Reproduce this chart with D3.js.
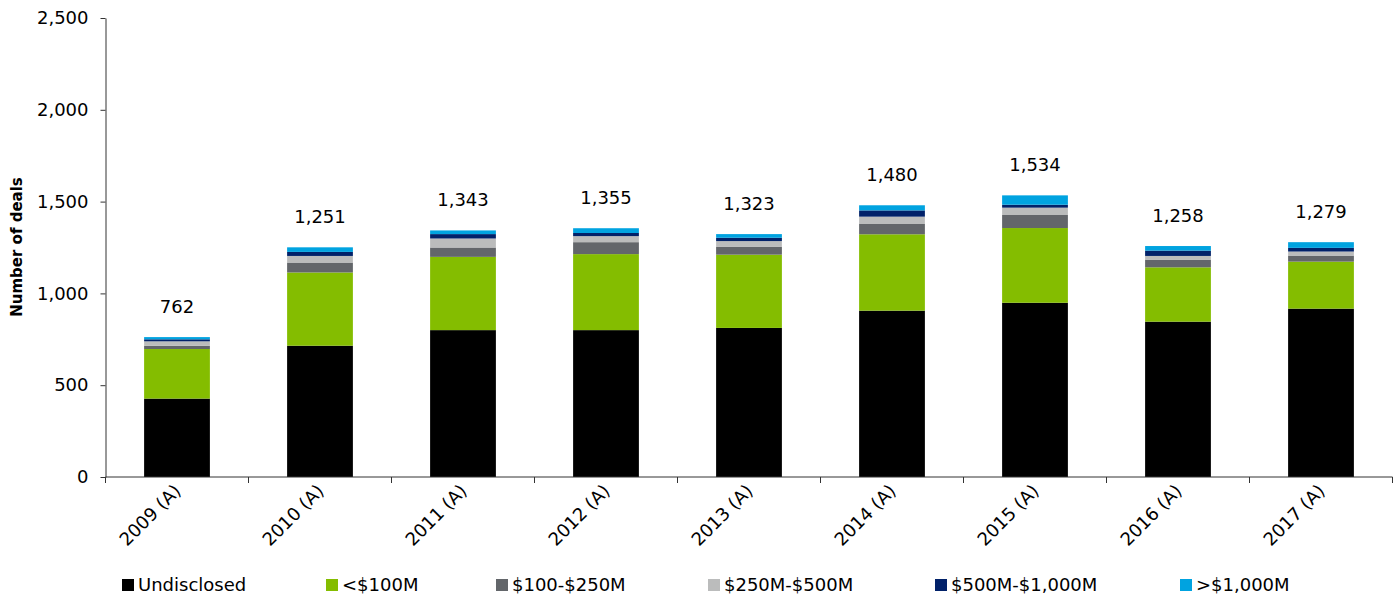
<!DOCTYPE html>
<html><head><meta charset="utf-8">
<script src="https://cdn.jsdelivr.net/npm/d3@7"></script>
<style>body{margin:0;background:#fff}svg{display:block}text{font-family:"DejaVu Sans",Verdana,sans-serif}</style>
</head><body><svg id="c" width="1397" height="596"></svg>
<script>
const categories = ["2009 (A)","2010 (A)","2011 (A)","2012 (A)","2013 (A)","2014 (A)","2015 (A)","2016 (A)","2017 (A)"];
const seriesNames = ["Undisclosed","<$100M","$100-$250M","$250M-$500M","$500M-$1,000M",">$1,000M"];
const undisclosed = [427, 715, 800, 800, 812, 906, 949, 846, 917];
const under100 = [270, 399, 399, 414, 399, 416, 407, 296, 256];
const m100to250 = [18, 54, 51, 65, 42, 56, 71, 42, 33];
const m250to500 = [24, 36, 49, 33, 32, 40, 40, 20, 22];
const m500to1000 = [11, 22, 24, 17, 18, 34, 16, 29, 20];
const over1000 = [12, 25, 20, 26, 20, 28, 51, 25, 31];
const totals = [762, 1251, 1343, 1355, 1323, 1480, 1534, 1258, 1279];
const yTicks = [0, 500, 1000, 1500, 2000, 2500];
const colors = ["#000000","#84bd00","#63666a","#bbbcbc","#012169","#00a3e0"];

const seriesValues = [undisclosed, under100, m100to250, m250to500, m500to1000, over1000];
const rows = categories.map((c,i)=>{const r={cat:c}; seriesNames.forEach((s,j)=>r[s]=seriesValues[j][i]); return r;});
const stack = d3.stack().keys(seriesNames)(rows);

const svg = d3.select("#c");
const m = {left:105.5, right:1392.5, top:18, bottom:477};
const x = d3.scaleBand().domain(categories).range([m.left, m.right]).paddingInner(0.54).paddingOuter(0.27);
const y = d3.scaleLinear().domain([0,2500]).range([m.bottom, m.top]);

svg.append("g").selectAll("g").data(stack).join("g").attr("fill",(d,i)=>colors[i])
  .selectAll("rect").data(d=>d).join("rect")
  .attr("x",d=>x(d.data.cat)).attr("width",x.bandwidth())
  .attr("y",d=>y(d[1])).attr("height",d=>y(d[0])-y(d[1]));

// y axis
const ya = svg.append("g").attr("transform",`translate(${m.left},0)`)
  .call(d3.axisLeft(y).tickValues(yTicks).tickFormat(d3.format(",")).tickSize(5).tickSizeOuter(0));
ya.select(".domain").attr("stroke","#333");
ya.selectAll(".tick line").attr("stroke","#333");
ya.selectAll("text").attr("font-size",18).attr("fill","#000").attr("x",-17).attr("font-family","DejaVu Sans, Verdana, sans-serif");

// x axis
const xa = svg.append("g").attr("transform",`translate(0,${m.bottom})`);
xa.append("line").attr("x1",m.left).attr("x2",m.right).attr("stroke","#333");
const bounds = d3.range(categories.length+1).map(i=>m.left + i*(m.right-m.left)/categories.length);
xa.selectAll("line.tk").data(bounds).join("line").attr("class","tk")
  .attr("x1",d=>d).attr("x2",d=>d).attr("y1",0).attr("y2",6).attr("stroke","#333");
xa.selectAll("text").data(categories).join("text")
  .attr("transform",d=>`translate(${x(d)+x.bandwidth()/2+5},${15}) rotate(-45)`)
  .attr("text-anchor","end").attr("font-size",18).attr("fill","#000").text(d=>d);

// totals
svg.append("g").selectAll("text").data(categories).join("text")
  .attr("x",d=>x(d)+x.bandwidth()/2).attr("y",(d,i)=>y(totals[i])-24)
  .attr("text-anchor","middle").attr("font-size",18).attr("fill","#000")
  .text((d,i)=>d3.format(",")(totals[i]));

// y label
svg.append("text").attr("transform","translate(22,247) rotate(-90)").attr("text-anchor","middle")
  .attr("font-size",15).attr("font-weight","bold").attr("fill","#000").text("Number of deals");

// legend
const legX = [122, 326, 496, 708, 935, 1180];
const lg = svg.append("g").selectAll("g").data(seriesNames).join("g")
  .attr("transform",(d,i)=>`translate(${legX[i]},579)`);
lg.append("rect").attr("width",12).attr("height",12).attr("fill",(d,i)=>colors[i]);
lg.append("text").attr("x",16).attr("y",12).attr("font-size",18).attr("fill","#000").text(d=>d);
</script></body></html>
